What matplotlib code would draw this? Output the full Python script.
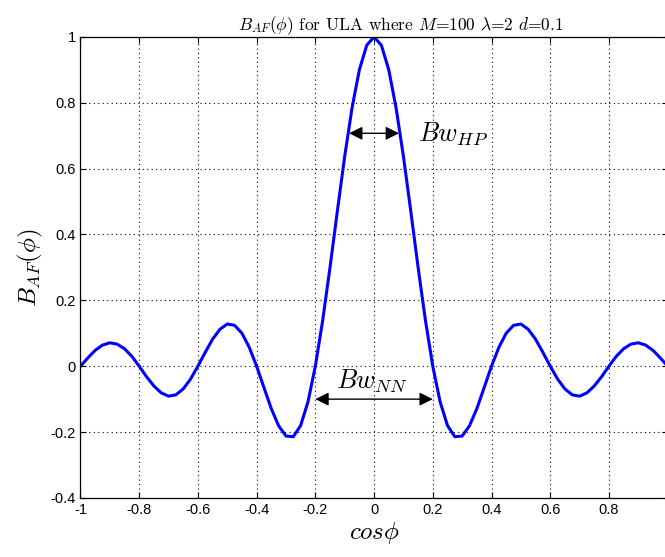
import numpy as np
import matplotlib.pyplot as plt

plt.rcParams['mathtext.fontset'] = 'cm'

# normalised array factor sampled along cos(phi)
cos_phi = np.round(np.arange(-40, 41) * 0.025, 3)
b_af = [
    0.0, 0.025, 0.048, 0.064, 0.071, 0.067, 0.053, 0.030,
    0.0, -0.032, -0.060, -0.081, -0.091, -0.087, -0.069, -0.039,
    0.0, 0.042, 0.082, 0.112, 0.128, 0.124, 0.100, 0.057,
    0.0, -0.065, -0.129, -0.181, -0.212, -0.214, -0.180, -0.108,
    0.0, 0.139, 0.300, 0.471, 0.637, 0.784, 0.900, 0.974,
    1.0,
    0.974, 0.900, 0.784, 0.637, 0.471, 0.300, 0.139, 0.0,
    -0.108, -0.180, -0.214, -0.212, -0.181, -0.129, -0.065, 0.0,
    0.057, 0.100, 0.124, 0.128, 0.112, 0.082, 0.042, 0.0,
    -0.039, -0.069, -0.087, -0.091, -0.081, -0.060, -0.032, 0.0,
    0.030, 0.053, 0.067, 0.071, 0.064, 0.048, 0.025, 0.0,
]

xticks = [-1, -0.8, -0.6, -0.4, -0.2, 0, 0.2, 0.4, 0.6, 0.8, 1]
xtick_labels = ['-1', '-0.8', '-0.6', '-0.4', '-0.2', '0', '0.2', '0.4', '0.6', '0.8', '1']
yticks = [-0.4, -0.2, 0, 0.2, 0.4, 0.6, 0.8, 1]
ytick_labels = ['-0.4', '-0.2', '0', '0.2', '0.4', '0.6', '0.8', '1']

# beamwidth markers: half-power and null-to-null
hp_left, hp_right, hp_level = -0.085, 0.085, 0.707
nn_left, nn_right, nn_level = -0.2, 0.2, -0.1

fig = plt.figure(figsize=(6.65, 5.57), dpi=100)
ax = fig.add_axes([0.121, 0.106, 0.883, 0.828])

ax.plot(cos_phi, b_af, color='#0000ff', lw=2.2)

ax.set_xlim(-1, 1)
ax.set_ylim(-0.4, 1)
ax.set_xticks(xticks)
ax.set_xticklabels(xtick_labels, family='Liberation Sans', fontsize=10.5)
ax.set_yticks(yticks)
ax.set_yticklabels(ytick_labels, family='Liberation Sans', fontsize=10.5)
ax.tick_params(direction='in', top=True, right=True, length=4, width=0.8)
ax.grid(True, color='black', linestyle=(0, (1, 3)), lw=0.8)
for sp in ax.spines.values():
    sp.set_linewidth(0.9)

arrow = dict(arrowstyle='<|-|>', color='black', lw=1.0,
             mutation_scale=20, shrinkA=0, shrinkB=0)
ax.annotate('', xy=(hp_left, hp_level), xytext=(hp_right, hp_level),
            arrowprops=arrow)
ax.annotate('', xy=(nn_left, nn_level), xytext=(nn_right, nn_level),
            arrowprops=arrow)
ax.text(0.15, 0.705, r'$Bw_{HP}$', fontsize=19, va='center', ha='left')
ax.text(-0.13, -0.045, r'$Bw_{NN}$', fontsize=19, va='center', ha='left')

ax.set_title(r'$B_{AF}(\phi)$ for ULA where $M$=100 $\lambda$=2 $d$=0.1',
             family='cmr10', fontsize=12.5, pad=5, x=0.545)
ax.set_xlabel(r'$cos\phi$', fontsize=18, labelpad=2)
ax.set_ylabel(r'$B_{AF}(\phi)$', fontsize=18, labelpad=4)

fig.savefig('out.png', dpi=100)
